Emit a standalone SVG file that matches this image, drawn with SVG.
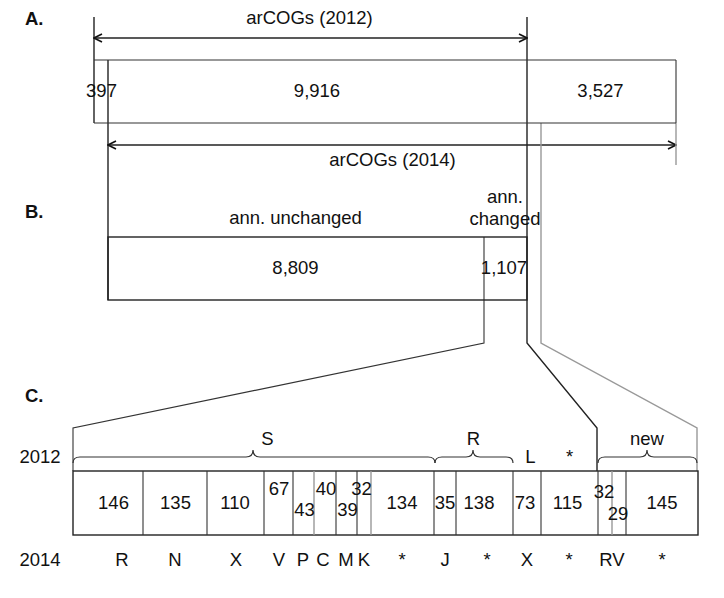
<svg xmlns="http://www.w3.org/2000/svg" width="724" height="598" viewBox="0 0 724 598">
<style>
text{font-family:"Liberation Sans",Arial,sans-serif;font-size:18.5px;fill:#111;}
.m{text-anchor:middle;}
.b{font-weight:bold;}
.ln{stroke:#222;stroke-width:1.4;fill:none;}
.th{stroke:#333;stroke-width:1.1;fill:none;}
.gr{stroke:#999;stroke-width:1.4;fill:none;}
.br{stroke:#333;stroke-width:1.2;fill:none;}
</style>
<defs>
<marker id="ah" viewBox="0 0 10 10" refX="9" refY="5" markerWidth="10" markerHeight="10" markerUnits="userSpaceOnUse" orient="auto-start-reverse">
<path d="M1,1 L9,5 L1,9" fill="none" stroke="#111" stroke-width="1.6"/>
</marker>
</defs>
<rect width="724" height="598" fill="#fff"/>
<g id="labels">
<text x="25" y="25" class="b">A.</text>
<text x="25" y="218" class="b">B.</text>
<text x="25" y="402" class="b">C.</text>
<text x="40" y="463" class="m">2012</text>
<text x="40" y="566" class="m">2014</text>
</g>
<g id="connectors">
<line class="ln" x1="94" y1="17" x2="94" y2="123"/>
<polyline class="ln" points="527,17 527,343 597,428 597,471"/>
<line class="ln" x1="108" y1="60" x2="108" y2="300"/>
<line class="ln" x1="94" y1="38" x2="527" y2="38" marker-start="url(#ah)" marker-end="url(#ah)"/>
<line class="ln" x1="108" y1="145" x2="676" y2="145" marker-start="url(#ah)" marker-end="url(#ah)"/>
<line class="gr" x1="676" y1="123" x2="676" y2="165"/>
<polyline class="gr" points="541,123 541,343 697,428 697,471"/>
<polyline class="th" points="484,237 484,343 73,428 73,471"/>
</g>
<g id="boxA">
<line class="th" x1="94" y1="60" x2="676" y2="60"/>
<line class="th" x1="94" y1="123" x2="676" y2="123"/>
<line class="th" x1="676" y1="60" x2="676" y2="123"/>
<text x="309.5" y="24" class="m">arCOGs (2012)</text>
<text x="392.5" y="166" class="m">arCOGs (2014)</text>
<text x="101.5" y="97" class="m">397</text>
<text x="317" y="97" class="m">9,916</text>
<text x="600.5" y="97" class="m">3,527</text>
</g>
<g id="boxB">
<rect class="ln" x="108" y="237" width="419" height="63"/>
<text x="295.5" y="224" class="m">ann. unchanged</text>
<text x="505" y="203" class="m">ann.</text>
<text x="505" y="225" class="m">changed</text>
<text x="295.5" y="274" class="m">8,809</text>
<text x="504" y="274" class="m">1,107</text>
</g>
<g id="braces">
<path class="br" d="M73,463 Q73,457 80,457 L246,457 Q253,457 253,450 Q253,457 260,457 L428,457 Q435,457 435,463"/>
<path class="br" d="M435,463 Q435,457 442,457 L466,457 Q473,457 473,450 Q473,457 480,457 L506,457 Q513,457 513,463"/>
<path class="br" d="M598,463 Q598,457 605,457 L640,457 Q647,457 647,450 Q647,457 654,457 L690,457 Q697,457 697,463"/>
<text x="267.5" y="445" class="m">S</text>
<text x="473.5" y="445" class="m">R</text>
<text x="647" y="445" class="m">new</text>
<text x="530.5" y="463" class="m">L</text>
<text x="569.5" y="463" class="m">*</text>
</g>
<g id="tableC">
<rect class="ln" x="73" y="471" width="625" height="64"/>
<g class="th">
<line x1="143" y1="471" x2="143" y2="535"/>
<line x1="207" y1="471" x2="207" y2="535"/>
<line x1="264" y1="471" x2="264" y2="535"/>
<line x1="293" y1="471" x2="293" y2="535"/>
<line x1="336" y1="471" x2="336" y2="535"/>
<line x1="357" y1="471" x2="357" y2="535"/>
<line x1="434" y1="471" x2="434" y2="535"/>
<line x1="456" y1="471" x2="456" y2="535"/>
<line x1="513" y1="471" x2="513" y2="535"/>
<line x1="541" y1="471" x2="541" y2="535"/>
<line x1="598" y1="471" x2="598" y2="535"/>
<line x1="626" y1="471" x2="626" y2="535"/>
</g>
<g class="gr">
<line x1="314" y1="471" x2="314" y2="535"/>
<line x1="371" y1="471" x2="371" y2="535"/>
<line x1="612" y1="471" x2="612" y2="535"/>
</g>
<text x="113.5" y="509" class="m">146</text>
<text x="175.5" y="509" class="m">135</text>
<text x="235" y="509" class="m">110</text>
<text x="279" y="495" class="m">67</text>
<text x="304.5" y="516" class="m">43</text>
<text x="326" y="495" class="m">40</text>
<text x="347.5" y="516" class="m">39</text>
<text x="361.5" y="495" class="m">32</text>
<text x="402" y="509" class="m">134</text>
<text x="445" y="509" class="m">35</text>
<text x="479" y="509" class="m">138</text>
<text x="525" y="509" class="m">73</text>
<text x="567.5" y="509" class="m">115</text>
<text x="604" y="498" class="m">32</text>
<text x="618" y="520" class="m">29</text>
<text x="662" y="509" class="m">145</text>
</g>
<g id="row2014">
<text x="122" y="566" class="m">R</text>
<text x="175" y="566" class="m">N</text>
<text x="236" y="566" class="m">X</text>
<text x="279" y="566" class="m">V</text>
<text x="303" y="566" class="m">P</text>
<text x="323" y="566" class="m">C</text>
<text x="346" y="566" class="m">M</text>
<text x="364" y="566" class="m">K</text>
<text x="402" y="566" class="m">*</text>
<text x="445" y="566" class="m">J</text>
<text x="487" y="566" class="m">*</text>
<text x="527" y="566" class="m">X</text>
<text x="569" y="566" class="m">*</text>
<text x="612" y="566" class="m">RV</text>
<text x="662" y="566" class="m">*</text>
</g>
</svg>
